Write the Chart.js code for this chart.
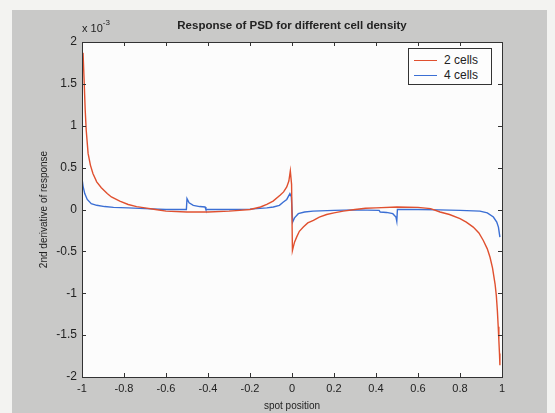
<!DOCTYPE html>
<html lang="en">
<head>
  <meta charset="UTF-8" />
  <title>Response of PSD for different cell density</title>
  <style>
    body {
      margin: 0;
      background: #f3f3f1;
      font-family: 'Liberation Sans', Arial, sans-serif;
    }
    #wrap {
      position: relative;
      width: 555px;
      height: 413px;
    }
    #legend {
      position: absolute;
      left: 408px;
      top: 48px;
      width: 82px;
      height: 35px;
      background: #fdfdfd;
      border: 1px solid #333;
      font-size: 12px;
      color: #222;
    }
    .leg-row {
      position: absolute;
      left: 5px;
      height: 14px;
      line-height: 14px;
      white-space: nowrap;
    }
    .leg-line {
      display: inline-block;
      width: 23px;
      height: 0;
      border-top: 1.5px solid;
      vertical-align: middle;
      margin-right: 7px;
    }
    #exp {
      position: absolute;
      left: 82px;
      top: 20px;
      font-size: 11px;
      color: #222;
    }
    #exp sup { font-size: 8px; position: relative; top: -2px; }
  </style>
</head>
<body>
  <div id="wrap">
    <canvas id="psdChart" width="555" height="413"></canvas>
    <div id="exp">x 10<sup>-3</sup></div>
    <div id="legend"></div>
  </div>

  <script src="https://cdn.jsdelivr.net/npm/chart.js"></script>
  <script>
    // values, y in units of 1e-3
    const xRed = [-0.995, -0.99, -0.985, -0.98, -0.971, -0.96, -0.948, -0.93, -0.908, -0.88,
      -0.86, -0.82, -0.78, -0.74, -0.70, -0.65, -0.6, -0.5, -0.4, -0.3,
      -0.25, -0.2, -0.15, -0.12, -0.09, -0.057, -0.04, -0.025, -0.015, -0.008,
      -0.002, 0.002, 0.006, 0.012, 0.022, 0.035, 0.054, 0.075, 0.102, 0.13,
      0.165, 0.2, 0.244, 0.3, 0.35, 0.4, 0.5, 0.6, 0.66, 0.705,
      0.75, 0.8, 0.83, 0.863, 0.89, 0.911, 0.93, 0.943, 0.955, 0.967,
      0.973, 0.978, 0.982, 0.985, 0.988, 0.99];
    const yRed = [1.87, 1.55, 1.2, 0.95, 0.67, 0.53, 0.43, 0.33, 0.26, 0.19,
      0.15, 0.1, 0.06, 0.035, 0.02, 0.0, -0.02, -0.03, -0.03, -0.02,
      -0.01, 0.0, 0.03, 0.06, 0.1, 0.17, 0.21, 0.27, 0.34, 0.46,
      0.3, -0.49, -0.45, -0.39, -0.33, -0.26, -0.21, -0.16, -0.13, -0.09,
      -0.06, -0.04, -0.02, 0.0, 0.015, 0.02, 0.03, 0.025, 0.01, -0.03,
      -0.06, -0.11, -0.15, -0.21, -0.28, -0.37, -0.47, -0.57, -0.7, -0.89,
      -1.03, -1.21, -1.4, -1.56, -1.72, -1.86];

    const xBlue = [-0.999, -0.995, -0.987, -0.975, -0.956, -0.93, -0.892, -0.85, -0.78, -0.7,
      -0.6, -0.503, -0.5, -0.49, -0.47, -0.44, -0.414, -0.41, -0.3, -0.2,
      -0.12, -0.089, -0.06, -0.041, -0.025, -0.01, -0.003, 0.003, 0.012, 0.03,
      0.06, 0.1, 0.2, 0.3, 0.415, 0.42, 0.45, 0.48, 0.495, 0.499,
      0.502, 0.6, 0.7, 0.8, 0.895, 0.93, 0.959, 0.975, 0.983, 0.99];
    const yBlue = [0.35, 0.28, 0.19, 0.12, 0.07, 0.05, 0.035, 0.025, 0.02, 0.01,
      0.0, 0.0, 0.13, 0.08, 0.05, 0.035, 0.03, 0.0, 0.0, 0.005,
      0.02, 0.03, 0.05, 0.09, 0.12, 0.19, 0.15, -0.15, -0.1, -0.05,
      -0.03, -0.02, -0.01, -0.005, -0.01, -0.03, -0.035, -0.05, -0.09, -0.14,
      0.0, 0.0, -0.005, -0.01, -0.02, -0.04, -0.09, -0.15, -0.21, -0.33];

    const seriesLabels = ['2 cells', '4 cells'];
    const xTicks = [-1, -0.8, -0.6, -0.4, -0.2, 0, 0.2, 0.4, 0.6, 0.8, 1];
    const yTicks = [-2, -1.5, -1, -0.5, 0, 0.5, 1, 1.5, 2];

    const colors = ['#e0502f', '#3b6fd4'];
    const toPoints = (xs, ys) => xs.map((x, i) => ({ x: x, y: ys[i] }));

    // gray figure background, white axes box, inward MATLAB style ticks
    const matlabFrame = {
      id: 'matlabFrame',
      beforeDraw(chart) {
        const { ctx, chartArea: a } = chart;
        ctx.save();
        ctx.fillStyle = '#c9c9c8';
        ctx.fillRect(12, 10, 535, 403);
        ctx.fillStyle = '#fcfcfc';
        ctx.fillRect(a.left, a.top, a.right - a.left, a.bottom - a.top);
        ctx.restore();
      },
      afterDatasetsDraw(chart) {
        const { ctx, chartArea: a, scales } = chart;
        ctx.save();
        ctx.strokeStyle = '#333';
        ctx.lineWidth = 1;
        ctx.strokeRect(a.left + 0.5, a.top + 0.5, a.right - a.left, a.bottom - a.top);
        ctx.beginPath();
        xTicks.forEach(v => {
          const px = Math.round(scales.x.getPixelForValue(v)) + 0.5;
          ctx.moveTo(px, a.bottom); ctx.lineTo(px, a.bottom - 4);
          ctx.moveTo(px, a.top); ctx.lineTo(px, a.top + 4);
        });
        yTicks.forEach(v => {
          const py = Math.round(scales.y.getPixelForValue(v)) + 0.5;
          ctx.moveTo(a.left, py); ctx.lineTo(a.left + 4, py);
          ctx.moveTo(a.right, py); ctx.lineTo(a.right - 4, py);
        });
        ctx.stroke();
        ctx.restore();
      }
    };

    const chart = new Chart(document.getElementById('psdChart'), {
      type: 'line',
      data: {
        datasets: [
          { label: seriesLabels[0], data: toPoints(xRed, yRed), borderColor: colors[0], borderWidth: 1.4, pointRadius: 0, tension: 0 },
          { label: seriesLabels[1], data: toPoints(xBlue, yBlue), borderColor: colors[1], borderWidth: 1.4, pointRadius: 0, tension: 0 }
        ]
      },
      options: {
        responsive: false,
        animation: false,
        layout: { padding: { left: 0, right: 53, top: 0, bottom: 0 } },
        plugins: {
          legend: { display: false },
          tooltip: { enabled: false },
          title: {
            display: true,
            fullSize: false,
            text: 'Response of PSD for different cell density',
            color: '#222',
            font: { family: "'Liberation Sans', Arial, sans-serif", size: 11.5, weight: 'bold' },
            padding: { top: 18.5, bottom: 9.7 }
          }
        },
        scales: {
          x: {
            type: 'linear',
            min: -1, max: 1,
            afterFit: s => { s.height = 36; },
            afterBuildTicks: s => { s.ticks = xTicks.map(v => ({ value: v })); },
            grid: { display: false, drawTicks: false },
            border: { display: false },
            ticks: {
              padding: 5,
              color: '#222',
              font: { family: "'Liberation Sans', Arial, sans-serif", size: 11 },
              maxRotation: 0,
              callback: v => String(v)
            },
            title: {
              display: true,
              text: 'spot position',
              color: '#222',
              font: { family: "'Liberation Sans', Arial, sans-serif", size: 10 },
              padding: { top: 0, bottom: 1 }
            }
          },
          y: {
            min: -2, max: 2,
            afterFit: s => { s.width = 82; },
            afterBuildTicks: s => { s.ticks = yTicks.map(v => ({ value: v })); },
            grid: { display: false, drawTicks: false },
            border: { display: false },
            ticks: {
              padding: 5,
              color: '#222',
              font: { family: "'Liberation Sans', Arial, sans-serif", size: 12 },
              callback: v => String(v)
            },
            title: {
              display: true,
              text: '2nd derivative of response',
              color: '#222',
              font: { family: "'Liberation Sans', Arial, sans-serif", size: 10 },
              padding: { top: 38, bottom: 0 }
            }
          }
        }
      },
      plugins: [matlabFrame]
    });

    // legend box inside the axes, built from the datasets
    const legendEl = document.getElementById('legend');
    chart.data.datasets.forEach((ds, i) => {
      const row = document.createElement('div');
      row.className = 'leg-row';
      row.style.top = (4 + i * 15) + 'px';
      row.innerHTML = '<span class="leg-line" style="border-color:' + ds.borderColor + '"></span>' + ds.label;
      legendEl.appendChild(row);
    });
  </script>
</body>
</html>
